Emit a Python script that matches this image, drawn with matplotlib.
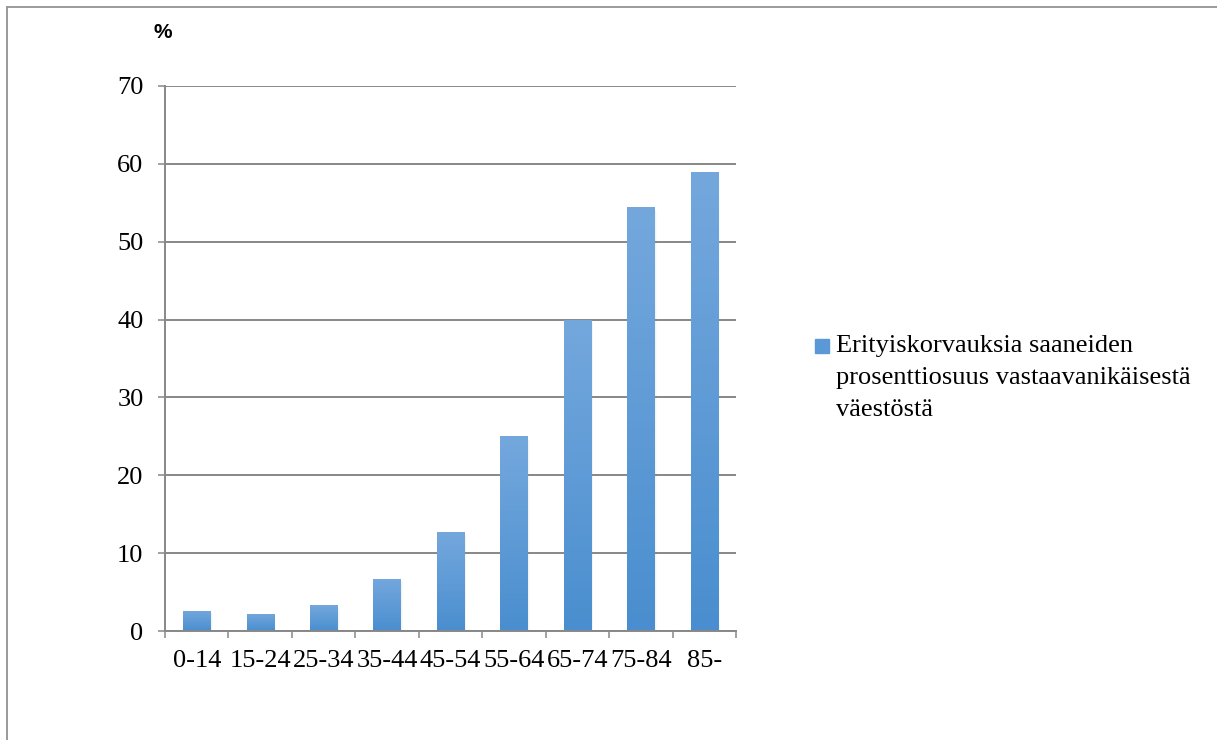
import numpy as np
import matplotlib
matplotlib.use('Agg')
import matplotlib.pyplot as plt
from matplotlib.colors import LinearSegmentedColormap
from matplotlib.lines import Line2D

# data
age_groups = ['0-14', '15-24', '25-34', '35-44', '45-54', '55-64', '65-74', '75-84', '85-']
share_pct = [2.6, 2.2, 3.3, 6.7, 12.7, 25.0, 40.0, 54.4, 58.9]
legend_label = 'Erityiskorvauksia saaneiden\nprosenttiosuus vastaavanikäisestä\nväestöstä'
y_ticks = [0, 10, 20, 30, 40, 50, 60, 70]

grid_col = '#878787'
bar_top = '#74a8dd'
bar_bottom = '#4a8ecf'

fig = plt.figure(figsize=(12.17, 7.40), dpi=100)
ax = fig.add_axes([165 / 1217, 1 - 631 / 740, (736 - 165) / 1217, (631 - 86) / 740])

x = np.arange(len(age_groups))
bars = ax.bar(x, share_pct, width=0.43, color=bar_bottom, zorder=3)

# soft shadow + vertical gradient on each bar
grad = LinearSegmentedColormap.from_list('g', [bar_bottom, bar_top])
img = np.linspace(0, 1, 256).reshape(-1, 1)
for b in bars:
    bx, bw, bh = b.get_x(), b.get_width(), b.get_height()
    for k, a in enumerate([0.10, 0.06, 0.03]):
        off = 0.012 * (k + 1)
        ax.add_patch(plt.Rectangle((bx + off, -0.15 * (k + 1)), bw, bh, color='#7f7f7f',
                                   alpha=a, lw=0, zorder=2))
    im = ax.imshow(img, cmap=grad, origin='lower', aspect='auto',
                   extent=[bx, bx + bw, 0, bh], zorder=4)
    im.set_clip_path(b)

ax.set_xlim(-0.5, len(age_groups) - 0.5)
ax.set_ylim(0, 70)
ax.set_yticks(y_ticks)
ax.set_xticks(x)
ax.set_xticklabels(age_groups)
ax.set_xticks(np.arange(len(age_groups) + 1) - 0.5, minor=True)

for side in ['top', 'right']:
    ax.spines[side].set_visible(False)
for side in ['left', 'bottom']:
    ax.spines[side].set_color(grid_col)
    ax.spines[side].set_linewidth(1.4)
    ax.spines[side].set_zorder(5)

ax.yaxis.grid(True, color=grid_col, linewidth=1.4, zorder=1)
ax.set_axisbelow(True)
ax.tick_params(axis='y', length=5, width=1.1, color=grid_col, pad=10.5,
               labelsize=19, labelfontfamily='Liberation Serif')
ax.tick_params(axis='x', which='major', length=0, pad=14,
               labelsize=19, labelfontfamily='Liberation Serif')
ax.tick_params(axis='x', which='minor', length=5, width=1.1, color=grid_col)

fig.text(163 / 1217, 1 - 33 / 740, '%', fontsize=15, fontweight='bold',
         family='Liberation Sans', ha='center', va='center')

# legend
fig.patches.append(plt.Rectangle((815 / 1217, 1 - 353 / 740), 14 / 1217, 14 / 740,
                                 transform=fig.transFigure, color='#5b99d6'))
fig.text(836 / 1217, 1 - 335 / 740, legend_label, fontsize=19, family='Liberation Serif',
         ha='left', va='top', linespacing=1.6)

# outer frame (left and top edges only)
fig.add_artist(Line2D([7 / 1217, 7 / 1217], [0, 1 - 6.5 / 740], color='#9a9a9a',
                      lw=1.4, transform=fig.transFigure))
fig.add_artist(Line2D([7 / 1217, 1], [1 - 6.5 / 740, 1 - 6.5 / 740], color='#9a9a9a',
                      lw=1.4, transform=fig.transFigure))

fig.savefig('out.png', dpi=100)
